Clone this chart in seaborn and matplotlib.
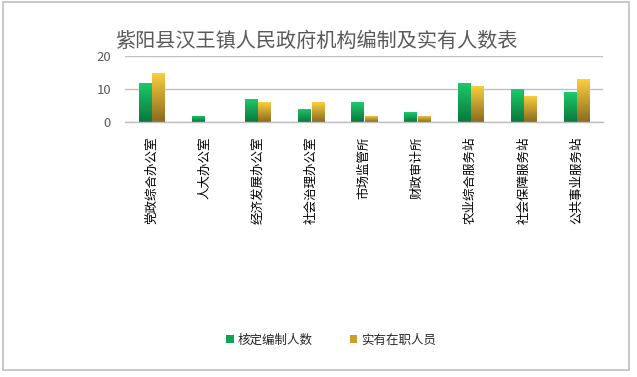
import numpy as np
import pandas as pd
import matplotlib
matplotlib.use('Agg')
import matplotlib.pyplot as plt
import seaborn as sns
from matplotlib.colors import LinearSegmentedColormap
from matplotlib.patches import Rectangle, Patch

# Data
offices = ['党政综合办公室', '人大办公室', '经济发展办公室', '社会治理办公室', '市场监管所',
           '财政审计所', '农业综合服务站', '社会保障服务站', '公共事业服务站']
approved = [12, 2, 7, 4, 6, 3, 12, 10, 9]
actual = [15, 0, 6, 6, 2, 2, 11, 8, 13]
series = ['核定编制人数', '实有在职人员']
title = '紫阳县汉王镇人民政府机构编制及实有人数表'

df = pd.DataFrame({
    'office': offices * 2,
    'value': approved + actual,
    'series': [series[0]] * len(offices) + [series[1]] * len(offices),
})

sns.set_theme(style='white')
plt.rcParams['font.family'] = ['Noto Sans CJK SC', 'DejaVu Sans']

fig = plt.figure(figsize=(6.37, 3.77), dpi=100)
ax = fig.add_axes([0.196, 0.676, 0.751, 0.175])

# gradient colours (top, bottom)
grads = {series[0]: ('#1ccb6b', '#0a773c'), series[1]: ('#fbd03e', '#8a6b21')}
palette = {series[0]: '#12a354', series[1]: '#c9a030'}

sns.barplot(data=df, x='office', y='value', hue='series', palette=palette,
            width=0.51, gap=0.11, ax=ax, legend=False)

# paint each bar with a vertical gradient
for cont, name in zip(ax.containers, series):
    cmap = LinearSegmentedColormap.from_list(name, [grads[name][1], grads[name][0]])
    for bar in cont:
        x0, y0 = bar.get_x(), bar.get_y()
        w, h = bar.get_width(), bar.get_height()
        if h <= 0:
            continue
        bar.set_facecolor('none')
        grad = np.linspace(0, 1, 100).reshape(-1, 1)
        im = ax.imshow(grad, cmap=cmap, origin='lower', aspect='auto',
                       extent=[x0, x0 + w, y0, y0 + h], zorder=bar.get_zorder())
        im.set_clip_path(bar)
ax.set_xlim(-0.5, len(offices) - 0.5)
ax.set_ylim(0, 20)

ax.set_yticks([0, 10, 20])
ax.yaxis.grid(True, color='#bfbfbf', linewidth=1)
ax.set_axisbelow(True)
for s in ['top', 'right', 'left']:
    ax.spines[s].set_visible(False)
ax.spines['bottom'].set_color('#bfbfbf')
ax.spines['bottom'].set_linewidth(1)
ax.tick_params(axis='y', length=0, labelsize=9.5, labelcolor='#595959', pad=10)
ax.tick_params(axis='x', length=0, pad=10)
ax.set_xticks(range(len(offices)))
ax.set_xticklabels(offices, rotation=90, fontsize=9, color='black', va='top')
ax.set_xlabel('')
ax.set_ylabel('')

fig.text(0.181, 0.89, title, fontsize=14.5, color='#595959', ha='left', va='center')

handles = [Patch(facecolor=palette[s], edgecolor='none') for s in series]
fig.legend(handles, series, loc='center', bbox_to_anchor=(0.52, 0.098), ncol=2,
           frameon=False, fontsize=9, handlelength=0.6, handleheight=0.6,
           handletextpad=0.3, columnspacing=3.0)

fig.patches.append(Rectangle((0.004, 0.018), 0.984, 0.976, transform=fig.transFigure,
                             fill=False, edgecolor='#bfbfbf', linewidth=1.2))

fig.savefig('out.png', dpi=100)
